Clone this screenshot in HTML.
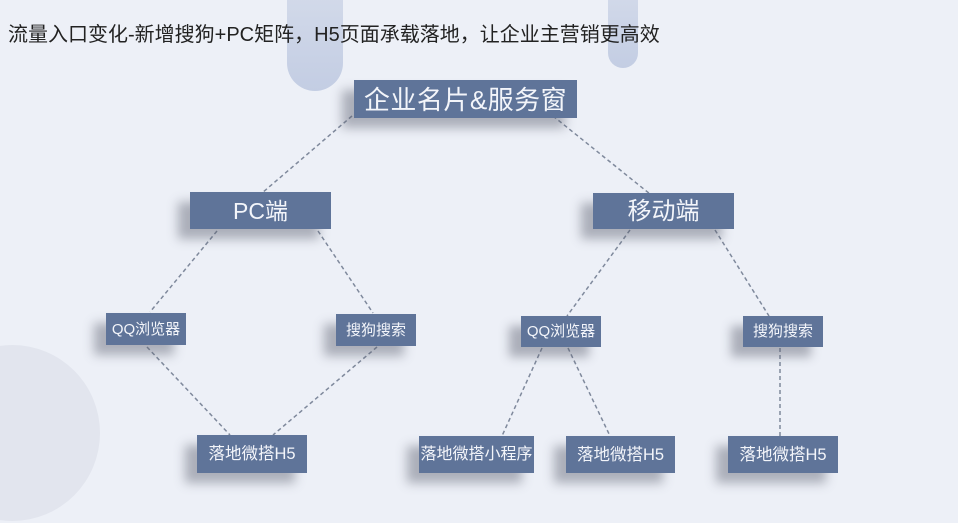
<!DOCTYPE html>
<html><head><meta charset="utf-8">
<style>
html,body{margin:0;padding:0;}
body{width:958px;height:523px;position:relative;overflow:hidden;background:#edf0f7;font-family:"Liberation Sans","Noto Sans CJK SC",sans-serif;}
.pill{position:absolute;border-radius:0 0 30px 30px;background:linear-gradient(#d3daea,#c3cde3);}
.circle{position:absolute;border-radius:50%;background:#e2e5ee;}
.title{position:absolute;left:8px;top:18px;font-size:20px;color:#222;white-space:nowrap;letter-spacing:0px;font-family:"Liberation Sans","Noto Sans CJK SC",sans-serif;}
.box{position:absolute;background:#5f7499;color:#f3f5fa;text-align:center;box-shadow:-12px 10px 10px rgba(90,95,110,0.45);white-space:nowrap;font-family:"Liberation Sans","Noto Sans CJK SC",sans-serif;}
svg{position:absolute;left:0;top:0;}
</style></head><body>
<div class="pill" style="left:287px;top:-10px;width:56px;height:101px;"></div>
<div class="pill" style="left:608px;top:-10px;width:30px;height:78px;border-radius:0 0 15px 15px;"></div>
<div class="circle" style="left:-75px;top:345px;width:175px;height:176px;"></div>
<div class="title">流量入口变化-新增搜狗+PC矩阵，H5页面承载落地，让企业主营销更高效</div>
<svg width="958" height="523" viewBox="0 0 958 523">
<g stroke="#7f899c" stroke-width="1.5" stroke-dasharray="4 3" fill="none">
<line x1="352" y1="116" x2="262" y2="193"/>
<line x1="553" y1="116" x2="650" y2="194"/>
<line x1="217" y1="231" x2="150" y2="312"/>
<line x1="318" y1="231" x2="373" y2="313"/>
<line x1="147" y1="347" x2="230" y2="435"/>
<line x1="377" y1="347" x2="273" y2="435"/>
<line x1="630" y1="230" x2="567" y2="316"/>
<line x1="715" y1="230" x2="769" y2="316"/>
<line x1="542" y1="348" x2="502" y2="436"/>
<line x1="568" y1="348" x2="610" y2="436"/>
<line x1="780" y1="348" x2="780" y2="436"/>
</g>
</svg>
<div class="box" style="left:354px;top:80px;width:223px;height:38px;line-height:40px;font-size:26px;letter-spacing:0.5px;">企业名片&amp;服务窗</div>
<div class="box" style="left:190px;top:192px;width:141px;height:37px;line-height:38px;font-size:23px;">PC端</div>
<div class="box" style="left:593px;top:193px;width:141px;height:36px;line-height:38px;font-size:24px;">移动端</div>
<div class="box" style="left:106px;top:313px;width:80px;height:32px;line-height:33px;font-size:15px;">QQ浏览器</div>
<div class="box" style="left:336px;top:314px;width:80px;height:32px;line-height:33px;font-size:15px;">搜狗搜索</div>
<div class="box" style="left:521px;top:316px;width:80px;height:31px;line-height:32px;font-size:15px;">QQ浏览器</div>
<div class="box" style="left:743px;top:316px;width:80px;height:31px;line-height:32px;font-size:15px;">搜狗搜索</div>
<div class="box" style="left:197px;top:435px;width:110px;height:38px;line-height:39px;font-size:16.5px;">落地微搭H5</div>
<div class="box" style="left:419px;top:436px;width:115px;height:37px;line-height:38px;font-size:16px;">落地微搭小程序</div>
<div class="box" style="left:566px;top:436px;width:109px;height:37px;line-height:38px;font-size:16.5px;">落地微搭H5</div>
<div class="box" style="left:728px;top:436px;width:110px;height:37px;line-height:38px;font-size:16.5px;">落地微搭H5</div>
</body></html>
